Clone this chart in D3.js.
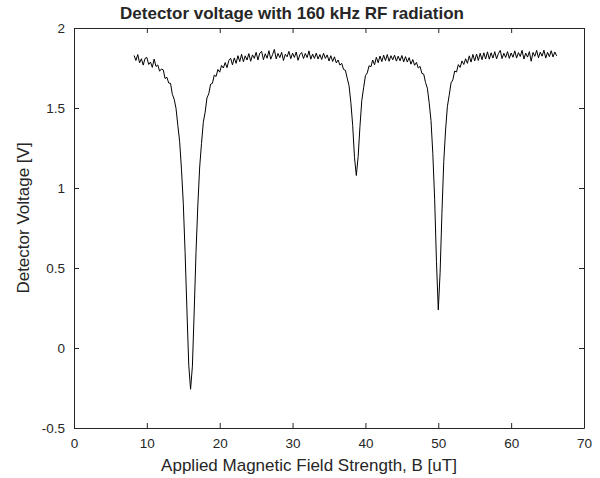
<!DOCTYPE html>
<html>
<head>
<meta charset="utf-8">
<script src="https://cdn.jsdelivr.net/npm/d3@7"></script>
<style>
  body { margin: 0; background: #fff; }
  text { font-family: "Liberation Sans", Arial, sans-serif; fill: #262626; }
</style>
</head>
<body>
<div id="chart-area"></div>
<script>
// Data
// ****
const field = [
  8.25, 8.5, 8.75, 9, 9.25, 9.5, 9.75, 10, 10.25, 10.5, 10.75, 11, 11.25, 11.5, 11.75, 12,
  12.25, 12.5, 12.75, 13, 13.25, 13.5, 13.75, 14, 14.25, 14.5, 14.75, 15, 15.25, 15.5, 15.75, 16,
  16.25, 16.5, 16.75, 17, 17.25, 17.5, 17.75, 18, 18.25, 18.5, 18.75, 19, 19.25, 19.5, 19.75, 20,
  20.25, 20.5, 20.75, 21, 21.25, 21.5, 21.75, 22, 22.25, 22.5, 22.75, 23, 23.25, 23.5, 23.75, 24,
  24.25, 24.5, 24.75, 25, 25.25, 25.5, 25.75, 26, 26.25, 26.5, 26.75, 27, 27.25, 27.5, 27.75, 28,
  28.25, 28.5, 28.75, 29, 29.25, 29.5, 29.75, 30, 30.25, 30.5, 30.75, 31, 31.25, 31.5, 31.75, 32,
  32.25, 32.5, 32.75, 33, 33.25, 33.5, 33.75, 34, 34.25, 34.5, 34.75, 35, 35.25, 35.5, 35.75, 36,
  36.25, 36.5, 36.75, 37, 37.25, 37.5, 37.75, 38, 38.25, 38.5, 38.75, 39, 39.25, 39.5, 39.75, 40,
  40.25, 40.5, 40.75, 41, 41.25, 41.5, 41.75, 42, 42.25, 42.5, 42.75, 43, 43.25, 43.5, 43.75, 44,
  44.25, 44.5, 44.75, 45, 45.25, 45.5, 45.75, 46, 46.25, 46.5, 46.75, 47, 47.25, 47.5, 47.75, 48,
  48.25, 48.5, 48.75, 49, 49.25, 49.5, 49.75, 50, 50.25, 50.5, 50.75, 51, 51.25, 51.5, 51.75, 52,
  52.25, 52.5, 52.75, 53, 53.25, 53.5, 53.75, 54, 54.25, 54.5, 54.75, 55, 55.25, 55.5, 55.75, 56,
  56.25, 56.5, 56.75, 57, 57.25, 57.5, 57.75, 58, 58.25, 58.5, 58.75, 59, 59.25, 59.5, 59.75, 60,
  60.25, 60.5, 60.75, 61, 61.25, 61.5, 61.75, 62, 62.25, 62.5, 62.75, 63, 63.25, 63.5, 63.75, 64,
  64.25, 64.5, 64.75, 65, 65.25, 65.5, 65.75, 66, 66.25
]

const voltage = [
  1.828, 1.797, 1.834, 1.782, 1.808, 1.768, 1.810, 1.816, 1.772, 1.787, 1.754, 1.806, 1.760, 1.769, 1.730, 1.744,
  1.738, 1.684, 1.692, 1.656, 1.654, 1.585, 1.555, 1.498, 1.392, 1.290, 1.118, 0.905, 0.596, 0.238, -0.108, -0.258,
  -0.114, 0.231, 0.604, 0.894, 1.131, 1.279, 1.411, 1.474, 1.563, 1.589, 1.649, 1.654, 1.706, 1.697, 1.741, 1.724,
  1.766, 1.750, 1.784, 1.752, 1.797, 1.811, 1.770, 1.813, 1.779, 1.827, 1.790, 1.836, 1.789, 1.826, 1.800, 1.840,
  1.792, 1.832, 1.810, 1.848, 1.800, 1.843, 1.854, 1.802, 1.839, 1.811, 1.858, 1.805, 1.833, 1.866, 1.807, 1.841,
  1.815, 1.848, 1.797, 1.836, 1.820, 1.854, 1.808, 1.843, 1.816, 1.850, 1.798, 1.833, 1.847, 1.809, 1.841, 1.815,
  1.857, 1.805, 1.837, 1.810, 1.843, 1.806, 1.834, 1.803, 1.842, 1.810, 1.832, 1.794, 1.827, 1.791, 1.820, 1.782,
  1.800, 1.768, 1.779, 1.741, 1.736, 1.686, 1.639, 1.535, 1.392, 1.190, 1.078, 1.196, 1.385, 1.546, 1.626, 1.702,
  1.719, 1.764, 1.758, 1.800, 1.770, 1.817, 1.783, 1.825, 1.790, 1.830, 1.796, 1.834, 1.792, 1.827, 1.801, 1.830,
  1.793, 1.824, 1.795, 1.828, 1.788, 1.821, 1.787, 1.815, 1.774, 1.803, 1.767, 1.785, 1.750, 1.760, 1.716, 1.712,
  1.659, 1.624, 1.533, 1.421, 1.215, 0.930, 0.540, 0.238, 0.470, 0.842, 1.165, 1.362, 1.510, 1.580, 1.657, 1.676,
  1.731, 1.725, 1.771, 1.754, 1.794, 1.772, 1.808, 1.779, 1.826, 1.787, 1.835, 1.794, 1.837, 1.797, 1.842, 1.802,
  1.845, 1.806, 1.851, 1.805, 1.845, 1.812, 1.852, 1.807, 1.840, 1.860, 1.809, 1.842, 1.816, 1.852, 1.810, 1.844,
  1.817, 1.857, 1.812, 1.846, 1.822, 1.860, 1.806, 1.843, 1.818, 1.852, 1.792, 1.847, 1.823, 1.860, 1.814, 1.849,
  1.824, 1.861, 1.812, 1.848, 1.821, 1.858, 1.819, 1.850, 1.826
]

const xTicks = [0, 10, 20, 30, 40, 50, 60, 70]
const yTicks = [-0.5, 0, 0.5, 1, 1.5, 2]

const titleText = "Detector voltage with 160 kHz RF radiation"
const xLabelText = "Applied Magnetic Field Strength, B [uT]"
const yLabelText = "Detector Voltage [V]"

// Config
// ******
const W = 600, H = 478
const margin = {top: 28, right: 16, bottom: 50, left: 74}
const width = W - margin.left - margin.right
const height = H - margin.top - margin.bottom
const axisColor = "#262626"

const svg = d3.select("#chart-area")
  .append("svg")
    .attr("width", W)
    .attr("height", H)

const g = svg.append("g")
  .attr("transform", "translate(" + margin.left + ", " + margin.top + ")")

const x = d3.scaleLinear().domain([0, 70]).range([0, width])
const y = d3.scaleLinear().domain([-0.5, 2]).range([height, 0])

// Axes (ticks pointing inward, box style)
// ***************************************
const fmt = d => String(d)

g.append("g")
  .attr("class", "x axis")
  .attr("transform", "translate(0, " + height + ")")
  .call(d3.axisBottom(x).tickValues(xTicks).tickFormat(fmt).tickSizeInner(-5).tickSizeOuter(0).tickPadding(10))

g.append("g")
  .attr("class", "x axis top")
  .call(d3.axisTop(x).tickValues(xTicks).tickFormat("").tickSizeInner(-5).tickSizeOuter(0))

g.append("g")
  .attr("class", "y axis")
  .call(d3.axisLeft(y).tickValues(yTicks).tickFormat(fmt).tickSizeInner(-5).tickSizeOuter(0).tickPadding(9))

g.append("g")
  .attr("class", "y axis right")
  .attr("transform", "translate(" + width + ", 0)")
  .call(d3.axisRight(y).tickValues(yTicks).tickFormat("").tickSizeInner(-5).tickSizeOuter(0))

g.selectAll(".axis path, .axis line").attr("stroke", axisColor).attr("stroke-width", 1)
g.selectAll(".axis text")
  .attr("font-size", "13.5px")
  .attr("font-family", "'Liberation Sans', Arial, sans-serif")
  .attr("fill", axisColor)

// Data line
// *********
const points = field.map((f, i) => [f, voltage[i]])
const line = d3.line().x(d => x(d[0])).y(d => y(d[1]))

g.append("path")
  .datum(points)
  .attr("fill", "none")
  .attr("stroke", "#000")
  .attr("stroke-width", 1)
  .attr("stroke-linejoin", "round")
  .attr("d", line)

// Labels
// ******
svg.append("text")
  .attr("x", 292)
  .attr("y", 19)
  .attr("text-anchor", "middle")
  .attr("font-size", "17px")
  .attr("font-weight", "bold")
  .attr("fill", "#000")
  .text(titleText)

svg.append("text")
  .attr("x", 309)
  .attr("y", 471)
  .attr("text-anchor", "middle")
  .attr("font-size", "17px")
  .text(xLabelText)

svg.append("text")
  .attr("transform", "translate(29, 218) rotate(-90)")
  .attr("text-anchor", "middle")
  .attr("font-size", "17px")
  .text(yLabelText)
</script>
</body>
</html>
